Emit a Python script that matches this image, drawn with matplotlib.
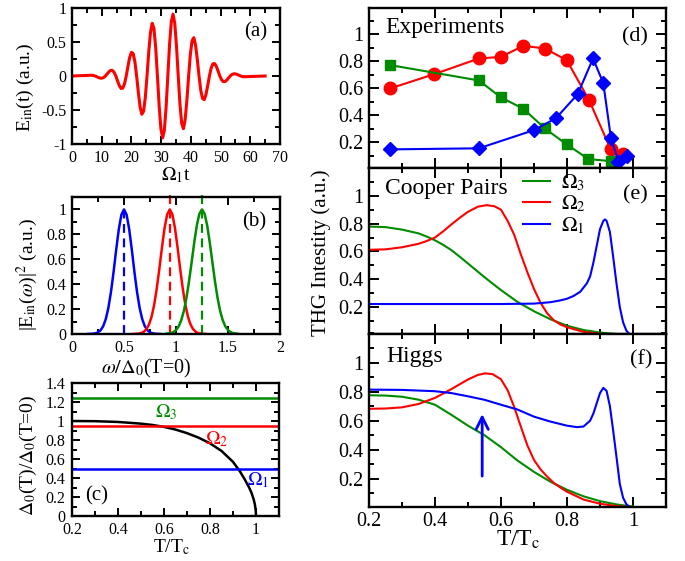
import numpy as np
import matplotlib
matplotlib.use('Agg')
import matplotlib.pyplot as plt
from matplotlib.ticker import MultipleLocator, FuncFormatter

plt.rcParams['font.family'] = ['Liberation Serif', 'DejaVu Serif']
plt.rcParams['mathtext.fontset'] = 'stix'

RED = '#ff0000'
GREEN = '#008b00'
BLUE = '#0000ff'

# ---------------- data ----------------
# (a) incident pulse, sampled every 7/12 from t=6, padded with zeros at the ends
E_a_core = [0.010, 0.011, 0.008, 0.0, -0.011, -0.023, -0.031, -0.032, -0.022, 0.0,
            0.030, 0.061, 0.082, 0.082, 0.055, 0.0, -0.072, -0.141, -0.183, -0.179,
            -0.116, 0.0, 0.143, 0.274, 0.348, 0.330, 0.208, 0.0, -0.244, -0.455,
            -0.563, -0.520, -0.319, 0.0, 0.355, 0.643, 0.775, 0.697, 0.416, 0.0,
            -0.439, -0.776, -0.910, -0.797, -0.463, 0.0, 0.463, 0.797, 0.910, 0.776,
            0.439, 0.0, -0.416, -0.697, -0.775, -0.643, -0.355, 0.0, 0.319, 0.520,
            0.563, 0.455, 0.244, 0.0, -0.208, -0.330, -0.348, -0.274, -0.143, 0.0,
            0.116, 0.179, 0.183, 0.141, 0.072, 0.0, -0.055, -0.082, -0.082, -0.061,
            -0.030, 0.0, 0.022, 0.032, 0.031, 0.023, 0.011, 0.0, -0.008, -0.011, -0.010]
t_a = np.concatenate([[0.0], 6 + np.arange(len(E_a_core)) * 7 / 12, [65.0]])
E_a = np.concatenate([[0.0], E_a_core, [0.0]])

# (b) spectra
b_offsets = [-0.35, -0.3, -0.275, -0.25, -0.225, -0.2, -0.175, -0.15, -0.125, -0.1, -0.075,
             -0.05, -0.025, 0.0, 0.025, 0.05, 0.075, 0.1, 0.125, 0.15, 0.175, 0.2, 0.225,
             0.25, 0.275, 0.3, 0.35]
b_centers = [0.50, 0.94, 1.25]
spec_blue = [0.0, 0.002, 0.0053, 0.0132, 0.0301, 0.0628, 0.120, 0.211, 0.339, 0.500, 0.678,
             0.841, 0.958, 1.0, 0.958, 0.841, 0.678, 0.500, 0.339, 0.211, 0.120, 0.0628,
             0.0301, 0.0132, 0.0053, 0.002, 0.0]
spec_red = [0.0, 0.003, 0.0076, 0.0177, 0.0381, 0.0756, 0.138, 0.234, 0.365, 0.524, 0.695,
            0.851, 0.960, 1.0, 0.960, 0.851, 0.695, 0.524, 0.365, 0.234, 0.138, 0.0756,
            0.0381, 0.0177, 0.0076, 0.003, 0.0]
spec_green = [0.001, 0.0068, 0.0152, 0.0314, 0.0605, 0.109, 0.183, 0.288, 0.421, 0.575, 0.732,
              0.871, 0.966, 1.0, 0.966, 0.871, 0.732, 0.575, 0.421, 0.288, 0.183, 0.109,
              0.0605, 0.0314, 0.0152, 0.0068, 0.001]

# (c) gap and frequencies
T_gap = [0.2, 0.3, 0.4, 0.5, 0.55, 0.6, 0.65, 0.7, 0.75, 0.8, 0.85, 0.9, 0.93, 0.95,
         0.97, 0.98, 0.99, 0.995, 0.999, 1.0]
gap = [1.0, 0.998, 0.99, 0.972, 0.958, 0.938, 0.91, 0.872, 0.825, 0.765, 0.685, 0.57,
       0.47, 0.39, 0.30, 0.247, 0.174, 0.123, 0.055, 0.0]
omega_levels = [0.49, 0.945, 1.245]   # Omega_1, Omega_2, Omega_3

# (d) experiments
T_sq = [0.264, 0.533, 0.600, 0.668, 0.733, 0.799, 0.865, 0.933]
thg_sq = [0.773, 0.659, 0.533, 0.449, 0.303, 0.185, 0.076, 0.061]
T_ci = [0.264, 0.398, 0.533, 0.600, 0.668, 0.733, 0.799, 0.867, 0.932, 0.969]
thg_ci = [0.600, 0.706, 0.822, 0.834, 0.916, 0.896, 0.810, 0.513, 0.150, 0.113]
T_di = [0.264, 0.533, 0.700, 0.766, 0.832, 0.879, 0.910, 0.933, 0.956, 0.982]
thg_di = [0.148, 0.156, 0.291, 0.378, 0.556, 0.822, 0.639, 0.234, 0.056, 0.100]

# (e) Cooper pairs
T_e_g = [0.2, 0.25, 0.3, 0.35, 0.375, 0.4, 0.425, 0.45, 0.475, 0.5, 0.525, 0.55, 0.575, 0.6,
         0.65, 0.7, 0.75, 0.8, 0.85, 0.9, 0.95, 1.0]
e_g = [0.779, 0.775, 0.757, 0.73, 0.707, 0.680, 0.647, 0.609, 0.562, 0.513, 0.464, 0.415,
       0.368, 0.322, 0.237, 0.17, 0.112, 0.066, 0.035, 0.017, 0.007, 0.002]
T_e_r = [0.2, 0.25, 0.3, 0.35, 0.375, 0.4, 0.425, 0.45, 0.475, 0.5, 0.53, 0.557, 0.58, 0.6,
         0.62, 0.64, 0.66, 0.68, 0.7, 0.72, 0.74, 0.76, 0.78, 0.8, 0.85, 0.9, 0.95, 1.0]
e_r = [0.612, 0.615, 0.63, 0.655, 0.675, 0.70, 0.745, 0.795, 0.842, 0.885, 0.922, 0.933,
       0.925, 0.90, 0.82, 0.72, 0.58, 0.45, 0.33, 0.23, 0.155, 0.105, 0.075, 0.055, 0.022,
       0.008, 0.002, 0.0]
T_e_b = [0.2, 0.4, 0.6, 0.7, 0.75, 0.78, 0.8, 0.82, 0.84, 0.86, 0.87, 0.88, 0.89, 0.9, 0.91,
         0.915, 0.92, 0.93, 0.94, 0.95, 0.96, 0.97, 0.98, 0.99]
e_b = [0.222, 0.222, 0.222, 0.225, 0.235, 0.248, 0.26, 0.28, 0.31, 0.37, 0.42, 0.52, 0.64,
       0.76, 0.82, 0.83, 0.82, 0.74, 0.56, 0.37, 0.2, 0.09, 0.03, 0.005]

# (f) Higgs
T_f_g = [0.2, 0.25, 0.3, 0.35, 0.4, 0.45, 0.5, 0.55, 0.6, 0.65, 0.7, 0.75, 0.8, 0.85, 0.9, 0.95, 1.0]
f_g = [0.775, 0.773, 0.765, 0.745, 0.71, 0.64, 0.566, 0.50, 0.418, 0.326, 0.248, 0.18, 0.125,
       0.08, 0.047, 0.024, 0.01]
T_f_r = [0.2, 0.25, 0.3, 0.35, 0.4, 0.45, 0.5, 0.53, 0.552, 0.575, 0.6, 0.62, 0.64, 0.66, 0.68,
         0.7, 0.72, 0.74, 0.76, 0.78, 0.8, 0.85, 0.9, 0.95, 1.0]
f_r = [0.682, 0.684, 0.692, 0.715, 0.757, 0.818, 0.884, 0.915, 0.926, 0.92, 0.885, 0.81, 0.695,
       0.56, 0.43, 0.33, 0.265, 0.215, 0.172, 0.14, 0.112, 0.058, 0.029, 0.013, 0.005]
T_f_b = [0.2, 0.3, 0.4, 0.45, 0.5, 0.55, 0.6, 0.65, 0.7, 0.75, 0.8, 0.83, 0.85, 0.87, 0.88, 0.89,
         0.9, 0.91, 0.92, 0.93, 0.94, 0.95, 0.96, 0.97, 0.98, 0.99]
f_b = [0.814, 0.812, 0.803, 0.790, 0.768, 0.744, 0.710, 0.677, 0.628, 0.594, 0.566, 0.556, 0.560,
       0.60, 0.65, 0.72, 0.79, 0.826, 0.805, 0.70, 0.53, 0.35, 0.165, 0.07, 0.025, 0.006]
arrow_T = 0.543
arrow_from, arrow_to = 0.20, 0.665

# ---------------- figure ----------------
W, H = 685, 561
fig = plt.figure(figsize=(W / 100, H / 100), dpi=100)


def add_ax(l, t, r, b):
    return fig.add_axes([l / W, 1 - b / H, (r - l) / W, (b - t) / H])


fmt = FuncFormatter(lambda v, p: '%g' % round(v, 6))


def style(ax, fs, maj, mnr_x, mnr_y, majx, majy, xpad=4, ypad=4):
    ax.xaxis.set_major_locator(MultipleLocator(majx))
    ax.yaxis.set_major_locator(MultipleLocator(majy))
    ax.xaxis.set_minor_locator(MultipleLocator(mnr_x))
    ax.yaxis.set_minor_locator(MultipleLocator(mnr_y))
    ax.xaxis.set_major_formatter(fmt)
    ax.yaxis.set_major_formatter(fmt)
    ax.tick_params(which='both', direction='in', top=True, right=True, width=1.4,
                   labelsize=fs)
    ax.tick_params(axis='x', which='both', pad=xpad)
    ax.tick_params(axis='y', which='both', pad=ypad)
    ax.tick_params(which='major', length=maj)
    ax.tick_params(which='minor', length=maj * 0.55)
    for s in ax.spines.values():
        s.set_linewidth(1.7)


LFS = 11.5
# (a)
axa = add_ax(72, 8, 280, 144)
axa.plot(t_a, E_a, color=RED, lw=2.2)
axa.set_xlim(0, 70)
axa.set_ylim(-1, 1)
style(axa, LFS, 6, 5, 0.25, 10, 0.5)
axa.text(0.885, 0.825, '(a)', transform=axa.transAxes, ha='center', va='center', fontsize=15)
fig.text(176 / W, 1 - 175 / H, r'$\Omega_1$t', ha='center', va='center', fontsize=14)
fig.text(25 / W, 1 - 87 / H, r'E$_{\rm in}$(t) (a.u.)', ha='center', va='center',
         rotation=90, fontsize=14)

# (b)
axb = add_ax(72, 197, 280, 334)
for c, prof, col, top in zip(b_centers, [spec_blue, spec_red, spec_green],
                             [BLUE, RED, GREEN], [1.0, 1.12, 1.12]):
    axb.plot(np.array(b_offsets) + c, prof, color=col, lw=1.8)
    axb.plot([c, c], [0, top], color=col, lw=1.6, ls=(0, (4, 2.5)), clip_on=False)
axb.set_xlim(0, 2)
axb.set_ylim(0, 1.1)
style(axb, LFS, 6, 0.25, 0.1, 0.5, 0.2)
axb.text(0.877, 0.82, '(b)', transform=axb.transAxes, ha='center', va='center', fontsize=15)
fig.text(146 / W, 1 - 368 / H, r'$\omega/\Delta_0$(T=0)', ha='center', va='center',
         fontsize=14.5)
fig.text(27 / W, 1 - 274 / H, r'|E$_{\rm in}$($\omega$)|$^2$ (a.u.)', ha='center',
         va='center', rotation=90, fontsize=14)

# (c)
axc = add_ax(72, 383, 279, 516)
axc.plot(T_gap, gap, color='black', lw=1.8)
for lev, col in zip(omega_levels, [BLUE, RED, GREEN]):
    axc.axhline(lev, color=col, lw=1.8)
axc.set_xlim(0.2, 1.1)
axc.set_ylim(0, 1.4)
style(axc, LFS, 6, 0.1, 0.1, 0.2, 0.2, xpad=4.5, ypad=5)
axc.text(0.118, 0.15, '(c)', transform=axc.transAxes, ha='center', va='center', fontsize=15)
axc.text(0.609, 1.095, r'$\Omega_3$', color=GREEN, ha='center', va='center', fontsize=14)
axc.text(0.83, 0.81, r'$\Omega_2$', color=RED, ha='center', va='center', fontsize=14)
axc.text(1.009, 0.379, r'$\Omega_1$', color=BLUE, ha='center', va='center', fontsize=14)
fig.text(172 / W, 1 - 547 / H, r'T/T$_{\rm c}$', ha='center', va='center', fontsize=14)
fig.text(28 / W, 1 - 455 / H, r'$\Delta_0$(T)/$\Delta_0$(T=0)', ha='center', va='center',
         rotation=90, fontsize=14)

# right column
RFS = 14.5
axd = add_ax(369, 7.5, 666, 168)
axe = add_ax(369, 168, 666, 333.5)
axf = add_ax(369, 333.5, 666, 506.5)
for ax in (axd, axe, axf):
    ax.set_xlim(0.2, 1.1)
    ax.set_ylim(0.01, 1.2)
    style(ax, RFS, 7, 0.1, 0.1, 0.2, 0.2)
    ax.set_yticks([0.2, 0.4, 0.6, 0.8, 1.0])
for ax in (axd, axe):
    ax.tick_params(labelbottom=False)

# (d)
axd.plot(T_ci, thg_ci, color=RED, lw=1.5, marker='o', ms=9, mfc=RED, mec=RED)
axd.plot(T_sq, thg_sq, color=GREEN, lw=1.5, marker='s', ms=7.5, mfc=GREEN, mec=GREEN)
axd.plot(T_di, thg_di, color=BLUE, lw=1.5, marker='D', ms=7, mfc=BLUE, mec=BLUE)
axd.text(0.055, 0.84, 'Experiments', transform=axd.transAxes, ha='left', va='baseline',
         fontsize=17)
axd.text(0.897, 0.82, '(d)', transform=axd.transAxes, ha='center', va='center', fontsize=16)

# (e)
lg, = axe.plot(T_e_g, e_g, color=GREEN, lw=1.5)
lr, = axe.plot(T_e_r, e_r, color=RED, lw=1.5)
lb, = axe.plot(T_e_b, e_b, color=BLUE, lw=1.5)
axe.text(0.055, 0.84, 'Cooper Pairs', transform=axe.transAxes, ha='left', va='baseline',
         fontsize=17)
axe.text(0.896, 0.84, '(e)', transform=axe.transAxes, ha='center', va='center', fontsize=16)
axe.legend([lg, lr, lb], [r'$\Omega_3$', r'$\Omega_2$', r'$\Omega_1$'], loc='upper left',
           bbox_to_anchor=(0.505, 1.0), frameon=False, fontsize=15, handlelength=1.3,
           handletextpad=0.5, labelspacing=0.05, borderpad=0.2, borderaxespad=0)

# (f)
axf.plot(T_f_g, f_g, color=GREEN, lw=1.5)
axf.plot(T_f_r, f_r, color=RED, lw=1.5)
axf.plot(T_f_b, f_b, color=BLUE, lw=1.5)
axf.annotate('', xy=(arrow_T, arrow_to), xytext=(arrow_T, arrow_from),
             arrowprops=dict(arrowstyle='->', color=BLUE, lw=2, mutation_scale=22))
axf.text(0.058, 0.837, 'Higgs', transform=axf.transAxes, ha='left', va='baseline', fontsize=17)
axf.text(0.916, 0.847, '(f)', transform=axf.transAxes, ha='center', va='center', fontsize=16)

fig.text(518 / W, 1 - 540 / H, r'T/T$_{\rm c}$', ha='center', va='center', fontsize=17)
fig.text(321 / W, 1 - 253 / H, 'THG Intestity (a.u.)', ha='center', va='center',
         rotation=90, fontsize=15)

fig.savefig('out.png', dpi=100)
